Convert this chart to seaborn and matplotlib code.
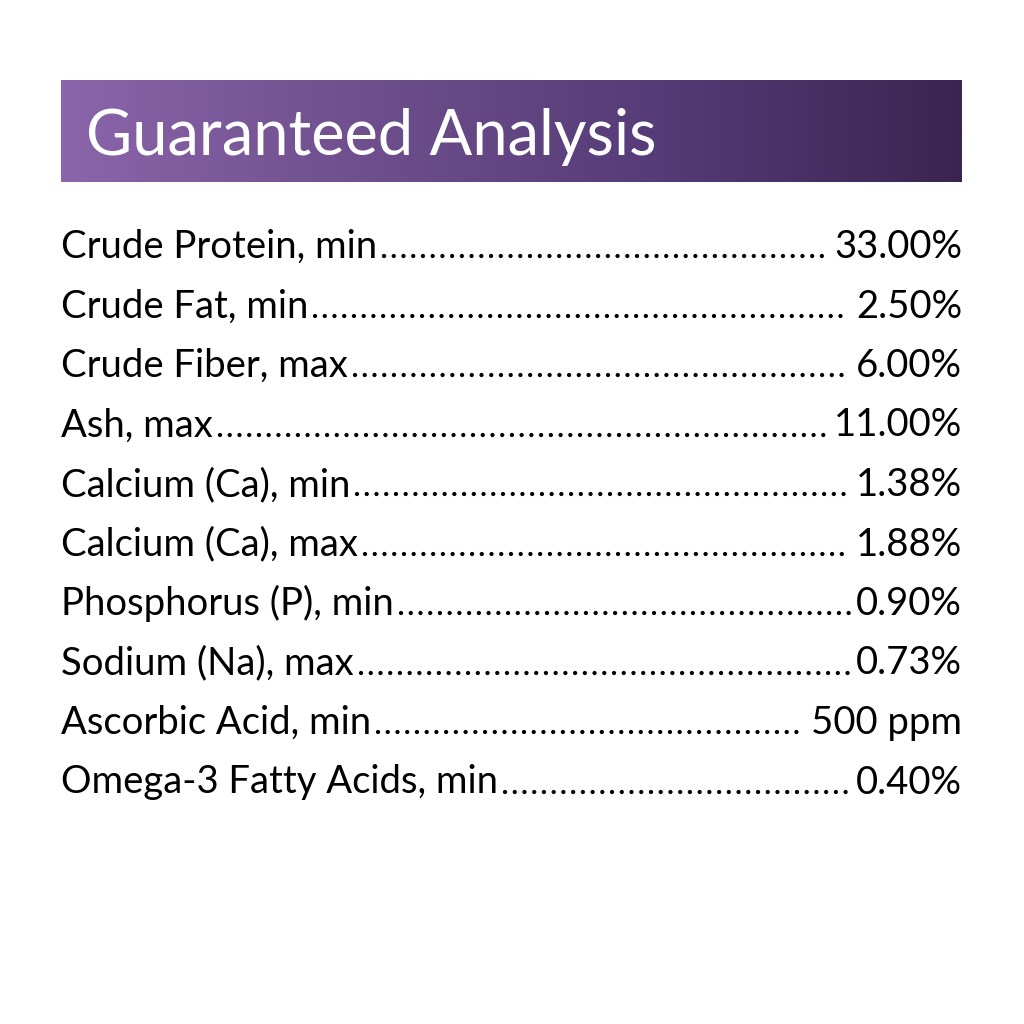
import numpy as np
import pandas as pd
import matplotlib
matplotlib.use("Agg")
import matplotlib.pyplot as plt
import seaborn as sns
from matplotlib.colors import LinearSegmentedColormap

# ================================
# 1. Data
# ================================
title = "Guaranteed Analysis"
nutrients = [
    "Crude Protein, min",
    "Crude Fat, min",
    "Crude Fiber, max",
    "Ash, max",
    "Calcium (Ca), min",
    "Calcium (Ca), max",
    "Phosphorus (P), min",
    "Sodium (Na), max",
    "Ascorbic Acid, min",
    "Omega-3 Fatty Acids, min",
]
amounts = ["33.00%", "2.50%", "6.00%", "11.00%", "1.38%",
           "1.88%", "0.90%", "0.73%", "500 ppm", "0.40%"]

df = pd.DataFrame({"nutrient": nutrients, "amount": amounts})

# ================================
# 2. Figure setup (pixel coordinates)
# ================================
sns.set_theme(style="white")
plt.rcParams['font.family'] = ['Lato', 'DejaVu Sans']

fig = plt.figure(figsize=(10.24, 10.24), dpi=100)
ax = fig.add_axes([0, 0, 1, 1])
ax.set_xlim(0, 1024)
ax.set_ylim(1024, 0)
ax.axis("off")

left, right = 61, 962
band_top, band_bottom = 80, 182

# header band with purple gradient
cmap = LinearSegmentedColormap.from_list(
    "purple", ["#8b65aa", "#6f4f8d", "#553b77", "#3b2450"])
grad = np.linspace(0, 1, 512).reshape(1, -1)
ax.imshow(grad, cmap=cmap, aspect="auto",
          extent=[left, right, band_bottom, band_top], zorder=1)
ax.text(86, 155, title, color="white", fontsize=45.5,
        va="baseline", ha="left", zorder=2)

# ================================
# 3. Rows with dot leaders
# ================================
first_base = 258
step = 59.5
fs = 27.5

fig.canvas.draw()
renderer = fig.canvas.get_renderer()
inv = ax.transData.inverted()

for i, row in df.iterrows():
    y = first_base + i * step
    t1 = ax.text(left, y, row["nutrient"], fontsize=fs, color="black",
                 va="baseline", ha="left")
    t2 = ax.text(right, y, row["amount"], fontsize=fs, color="black",
                 va="baseline", ha="right")
    b1 = t1.get_window_extent(renderer=renderer)
    b2 = t2.get_window_extent(renderer=renderer)
    x0 = inv.transform((b1.x1, 0))[0] + 7
    x1 = inv.transform((b2.x0, 0))[0] - 6
    ax.plot([x0, x1], [y - 2, y - 2], color="black", lw=3.1,
            linestyle=(0, (0.01, 2.25)), dash_capstyle="round",
            solid_capstyle="round")

fig.savefig("out.png", dpi=100, facecolor="white")
